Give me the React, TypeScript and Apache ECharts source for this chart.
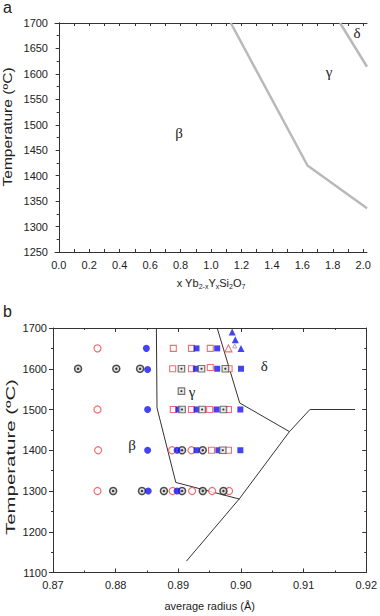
import React, { useEffect, useRef } from "react";
import * as echarts from "echarts";

// ---------- Panel a data ----------
const aXTickValues = [0, 0.1, 0.2, 0.3, 0.4, 0.5, 0.6, 0.7, 0.8, 0.9, 1.0, 1.1, 1.2, 1.3, 1.4, 1.5, 1.6, 1.7, 1.8, 1.9, 2.0];
const aXLabelValues = [0, 0.2, 0.4, 0.6, 0.8, 1.0, 1.2, 1.4, 1.6, 1.8, 2.0];
const aBetaGammaLine = [[1.13, 1700], [1.634, 1420], [2.025, 1336]];
const aGammaDeltaLine = [[1.848, 1700], [2.025, 1614]];
const aPhaseNames = ["β", "γ", "δ"];
const aPhasePos = [[0.79, 1484], [1.776, 1604], [1.96, 1680]];

// ---------- Panel b data ----------
const bRedCircles = [
  [0.8771, 1650], [0.8771, 1500], [0.8772, 1400], [0.8890, 1400], [0.8921, 1400],
  [0.8771, 1300], [0.8891, 1300], [0.8922, 1300], [0.8954, 1300], [0.8981, 1300],
];
const bBlueCircles = [
  [0.8849, 1650], [0.8851, 1598], [0.8851, 1500], [0.8851, 1400], [0.8898, 1400],
  [0.8852, 1300], [0.8898, 1300],
];
const bDotCircles = [
  [0.8740, 1600], [0.8801, 1600], [0.8839, 1600], [0.8906, 1400], [0.8939, 1400],
  [0.8796, 1300], [0.8842, 1300], [0.8877, 1300], [0.8906, 1300], [0.8939, 1300], [0.8972, 1300],
];
const bRedSquares = [
  [0.8892, 1650], [0.8921, 1650], [0.8951, 1650],
  [0.8891, 1600], [0.8921, 1600], [0.8951, 1603], [0.8981, 1600],
  [0.8892, 1500], [0.8921, 1500], [0.8950, 1500], [0.8980, 1500],
  [0.8953, 1400], [0.8980, 1400],
];
const bBlueSquares = [
  [0.8929, 1650], [0.8962, 1650],
  [0.8928, 1600], [0.8962, 1600], [0.9000, 1600],
  [0.8900, 1500], [0.8929, 1500], [0.8961, 1500], [0.8999, 1500],
  [0.8929, 1400], [0.8964, 1400], [0.8999, 1400],
];
const bDotSquares = [
  [0.8905, 1600], [0.8937, 1600], [0.8975, 1600], [0.8905, 1545],
  [0.8906, 1500], [0.8938, 1500], [0.8972, 1500], [0.8971, 1400],
];
const bRedTriangles = [[0.8980, 1650]];
const bGrayTriangles = [[0.8990, 1656]];
const bBlueTriangles = [[0.8986, 1690], [0.8991, 1671], [0.9000, 1650]];

const bBetaGammaLine = [[0.8865, 1700], [0.8866, 1504], [0.8896, 1321], [0.8998, 1280]];
const bGammaDeltaLine = [[0.8962, 1700], [0.8998, 1516], [0.9077, 1446]];
const bDeltaAlphaLine = [[0.8913, 1128], [0.8998, 1282], [0.9077, 1445], [0.9110, 1500], [0.9182, 1500]];
const bPhaseNames = ["β", "γ", "δ"];
const bPhasePos = [[0.8826, 1413], [0.8922, 1543], [0.9037, 1606]];

const SANS = '"Liberation Sans", Arial, sans-serif';
const SERIF = '"Liberation Serif", "Times New Roman", serif';
const RED = "#ec4a4f";
const BLUE = "#1414f0";
const AXIS = "#333";

export default function App() {
  const ref = useRef<HTMLDivElement>(null);

  useEffect(() => {
    if (!ref.current) return;
    const chart = echarts.init(ref.current, null, { renderer: "svg" });

    const axisLine = { show: true, lineStyle: { color: AXIS, width: 1 } };
    const labelStyle = { color: "#222", fontSize: 11, fontFamily: SANS };
    const yFmt = (v: number) => String(v);

    const staticGraphics: any[] = [
      { type: "text", left: 3, top: -1, style: { text: "a", font: `16px ${SANS}`, fill: "#222" } },
      { type: "text", left: 3, top: 303, style: { text: "b", font: `16px ${SANS}`, fill: "#222" } },
      {
        type: "text",
        x: 8,
        y: 127,
        rotation: Math.PI / 2,
        scaleX: 1.3,
        style: { text: "Temperature (ºC)", font: `12px ${SANS}`, fill: "#222", align: "center", verticalAlign: "middle" },
      },
      {
        type: "text",
        x: 11,
        y: 457,
        rotation: Math.PI / 2,
        scaleX: 1.7,
        style: { text: "Temperature (ºC)", font: `12px ${SANS}`, fill: "#222", align: "center", verticalAlign: "middle" },
      },
    ];

    const option: any = {
      animation: false,
      backgroundColor: "#fff",
      grid: [
        { left: 55, right: 13, top: 23, height: 229 },
        { left: 53, right: 12, top: 328, height: 244.5 },
      ],
      xAxis: [
        {
          gridIndex: 0,
          type: "value",
          min: -0.025,
          max: 2.025,
          axisLine,
          axisTick: { show: true, inside: true, length: 3, customValues: aXTickValues, lineStyle: { color: AXIS } },
          axisLabel: { ...labelStyle, margin: 7, customValues: aXLabelValues, formatter: (v: number) => v.toFixed(1) },
          splitLine: { show: false },
          name: "x Yb{s|2-x}Y{s|x}Si{s|2}O{s|7}",
          nameLocation: "middle",
          nameGap: 24,
          nameTextStyle: {
            color: "#222",
            fontSize: 11,
            fontFamily: SANS,
            rich: { s: { fontSize: 7, fontFamily: SANS, color: "#222", padding: [7, 0, 0, 0] } },
          },
        },
        {
          gridIndex: 0,
          type: "value",
          position: "top",
          min: -0.025,
          max: 2.025,
          axisLine,
          axisTick: { show: true, inside: true, length: 3, customValues: aXTickValues, lineStyle: { color: AXIS } },
          axisLabel: { show: false },
          splitLine: { show: false },
        },
        {
          gridIndex: 1,
          type: "value",
          min: 0.87,
          max: 0.92,
          interval: 0.01,
          axisLine,
          axisTick: { show: true, inside: true, length: 4, lineStyle: { color: AXIS } },
          minorTick: { show: true, splitNumber: 2, length: 2, lineStyle: { color: AXIS } },
          axisLabel: { ...labelStyle, margin: 7, formatter: (v: number) => v.toFixed(2) },
          splitLine: { show: false },
          name: "average radius (Å)",
          nameLocation: "middle",
          nameGap: 28,
          nameTextStyle: { color: "#222", fontSize: 11, fontFamily: SANS },
        },
        {
          gridIndex: 1,
          type: "value",
          position: "top",
          min: 0.87,
          max: 0.92,
          interval: 0.01,
          axisLine,
          axisTick: { show: true, inside: true, length: 4, lineStyle: { color: AXIS } },
          minorTick: { show: true, splitNumber: 2, length: 2, lineStyle: { color: AXIS } },
          axisLabel: { show: false },
          splitLine: { show: false },
        },
      ],
      yAxis: [
        {
          gridIndex: 0,
          type: "value",
          min: 1250,
          max: 1700,
          interval: 50,
          axisLine,
          axisTick: { show: true, inside: false, length: 3, lineStyle: { color: AXIS } },
          minorTick: { show: true, splitNumber: 2, length: 2, lineStyle: { color: AXIS } },
          axisLabel: { ...labelStyle, margin: 7, formatter: yFmt },
          splitLine: { show: false },
        },
        {
          gridIndex: 0,
          type: "value",
          position: "right",
          min: 1250,
          max: 1700,
          interval: 50,
          axisLine,
          axisTick: { show: true, inside: true, length: 3, lineStyle: { color: AXIS } },
          minorTick: { show: true, splitNumber: 2, length: 2, lineStyle: { color: AXIS } },
          axisLabel: { show: false },
          splitLine: { show: false },
        },
        {
          gridIndex: 1,
          type: "value",
          min: 1100,
          max: 1700,
          interval: 100,
          axisLine,
          axisTick: { show: true, inside: false, length: 4, lineStyle: { color: AXIS } },
          minorTick: { show: true, splitNumber: 2, length: 2, lineStyle: { color: AXIS } },
          axisLabel: { ...labelStyle, margin: 6, formatter: yFmt },
          splitLine: { show: false },
        },
        {
          gridIndex: 1,
          type: "value",
          position: "right",
          min: 1100,
          max: 1700,
          interval: 100,
          axisLine,
          axisTick: { show: true, inside: true, length: 4, lineStyle: { color: AXIS } },
          minorTick: { show: true, splitNumber: 2, length: 2, lineStyle: { color: AXIS } },
          axisLabel: { show: false },
          splitLine: { show: false },
        },
      ],
      graphic: staticGraphics,
      series: [
        // Panel a boundaries
        {
          type: "line", xAxisIndex: 0, yAxisIndex: 0, data: aBetaGammaLine, showSymbol: false,
          lineStyle: { color: "#b9b9b9", width: 2.5 }, silent: true,
        },
        {
          type: "line", xAxisIndex: 0, yAxisIndex: 0, data: aGammaDeltaLine, showSymbol: false,
          lineStyle: { color: "#b9b9b9", width: 2.5 }, silent: true,
        },
        // Panel b boundaries
        {
          type: "line", xAxisIndex: 2, yAxisIndex: 2, data: bBetaGammaLine, showSymbol: false,
          lineStyle: { color: "#333", width: 1 }, silent: true,
        },
        {
          type: "line", xAxisIndex: 2, yAxisIndex: 2, data: bGammaDeltaLine, showSymbol: false,
          lineStyle: { color: "#333", width: 1 }, silent: true,
        },
        {
          type: "line", xAxisIndex: 2, yAxisIndex: 2, data: bDeltaAlphaLine, showSymbol: false,
          lineStyle: { color: "#333", width: 1 }, silent: true,
        },
        // Markers
        {
          type: "scatter", xAxisIndex: 2, yAxisIndex: 2, data: bRedCircles, symbol: "circle", symbolSize: 7,
          itemStyle: { color: "#fff", borderColor: RED, borderWidth: 1.2 }, z: 3,
        },
        {
          type: "scatter", xAxisIndex: 2, yAxisIndex: 2, data: bRedSquares, symbol: "rect", symbolSize: 6,
          itemStyle: { color: "#fff", borderColor: RED, borderWidth: 1.1 }, z: 3,
        },
        {
          type: "scatter", xAxisIndex: 2, yAxisIndex: 2, data: bDotCircles, symbol: "circle", symbolSize: 7,
          itemStyle: { color: "#d8d8d8", borderColor: "#222", borderWidth: 1.5 }, z: 3,
        },
        {
          type: "scatter", xAxisIndex: 2, yAxisIndex: 2, data: bDotCircles, symbol: "circle", symbolSize: 2.5,
          itemStyle: { color: "#111" }, z: 3,
        },
        {
          type: "scatter", xAxisIndex: 2, yAxisIndex: 2, data: bBlueCircles, symbol: "circle", symbolSize: 7,
          itemStyle: { color: BLUE }, z: 3,
        },
        {
          type: "scatter", xAxisIndex: 2, yAxisIndex: 2, data: bBlueSquares, symbol: "rect", symbolSize: 6,
          itemStyle: { color: BLUE }, z: 3,
        },
        {
          type: "scatter", xAxisIndex: 2, yAxisIndex: 2, data: bDotSquares, symbol: "rect", symbolSize: 6.5,
          itemStyle: { color: "#e6e6e6", borderColor: "#555", borderWidth: 1.2 }, z: 3,
        },
        {
          type: "scatter", xAxisIndex: 2, yAxisIndex: 2, data: bDotSquares, symbol: "circle", symbolSize: 2.2,
          itemStyle: { color: "#111" }, z: 3,
        },
        {
          type: "scatter", xAxisIndex: 2, yAxisIndex: 2, data: bRedTriangles, symbol: "triangle", symbolSize: 7,
          itemStyle: { color: "#fff", borderColor: RED, borderWidth: 1.1 }, z: 3,
        },
        {
          type: "scatter", xAxisIndex: 2, yAxisIndex: 2, data: bGrayTriangles, symbol: "triangle", symbolSize: 4,
          itemStyle: { color: "#fff", borderColor: "#999", borderWidth: 1 }, z: 3,
        },
        {
          type: "scatter", xAxisIndex: 2, yAxisIndex: 2, data: bBlueTriangles, symbol: "triangle", symbolSize: 7,
          itemStyle: { color: BLUE }, z: 3,
        },
      ],
    };

    chart.setOption(option);

    // Phase labels placed through the axes' own scales
    const phaseText = (names: string[], pos: number[][], gridIndex: number) =>
      pos.map((p, i) => {
        const px = chart.convertToPixel({ gridIndex } as any, p) as number[];
        return {
          type: "text",
          x: px[0],
          y: px[1],
          z: 10,
          style: {
            text: names[i],
            font: `15px ${SERIF}`,
            fill: "#222",
            align: "center",
            verticalAlign: "middle",
          },
        };
      });

    chart.setOption({
      graphic: [
        ...staticGraphics,
        ...phaseText(aPhaseNames, aPhasePos, 0),
        ...phaseText(bPhaseNames, bPhasePos, 1),
      ],
    });

    return () => chart.dispose();
  }, []);

  return (
    <div
      ref={ref}
      style={{ position: "absolute", left: 0, top: 0, width: 380, height: 616, background: "#fff" }}
    />
  );
}
